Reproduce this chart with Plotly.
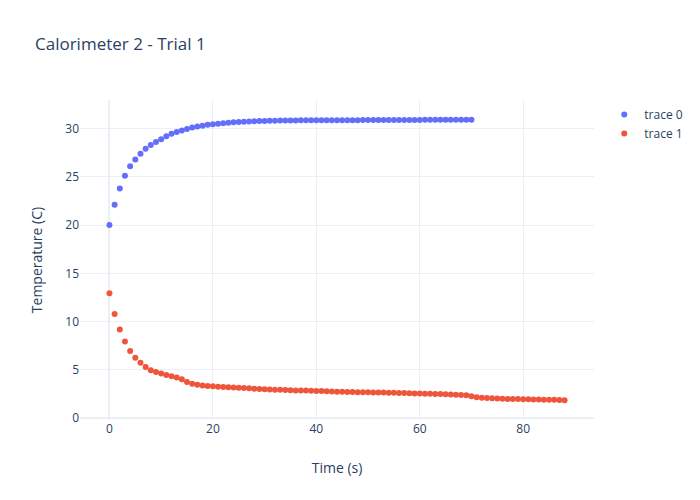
import plotly.graph_objects as go

time0 = list(range(0, 71))
temp0 = [20.0, 22.1, 23.8, 25.1, 26.1, 26.8, 27.4, 27.9, 28.3, 28.6,
         28.9, 29.2, 29.45, 29.65, 29.8, 29.95, 30.1, 30.2, 30.3, 30.38,
         30.44, 30.5, 30.55, 30.6, 30.64, 30.67, 30.7, 30.73, 30.75, 30.77,
         30.79, 30.8, 30.81, 30.82, 30.83, 30.84, 30.84, 30.85, 30.85, 30.85,
         30.86, 30.86, 30.86, 30.86, 30.87, 30.87, 30.87, 30.87, 30.87, 30.88,
         30.88, 30.88, 30.88, 30.88, 30.88, 30.89, 30.89, 30.89, 30.89, 30.89,
         30.89, 30.9, 30.9, 30.9, 30.9, 30.9, 30.9, 30.91, 30.91, 30.91,
         30.91]

time1 = list(range(0, 89))
temp1 = [12.95, 10.8, 9.2, 7.95, 6.95, 6.25, 5.75, 5.3, 4.97, 4.78,
         4.62, 4.48, 4.34, 4.22, 4.03, 3.76, 3.58, 3.47, 3.4, 3.34,
         3.3, 3.27, 3.24, 3.21, 3.18, 3.15, 3.12, 3.09, 3.06, 3.03,
         3.0, 2.98, 2.96, 2.94, 2.92, 2.9, 2.88, 2.87, 2.86, 2.85,
         2.83, 2.81, 2.79, 2.77, 2.75, 2.73, 2.72, 2.71, 2.7, 2.69,
         2.68, 2.67, 2.66, 2.65, 2.64, 2.63, 2.61, 2.6, 2.58, 2.57,
         2.55, 2.54, 2.53, 2.52, 2.5, 2.48, 2.46, 2.44, 2.41, 2.37,
         2.28, 2.18, 2.12, 2.09, 2.06, 2.04, 2.02, 2.0, 1.99, 1.98,
         1.97, 1.96, 1.95, 1.93, 1.92, 1.91, 1.9, 1.88, 1.86]

fig = go.Figure()
fig.add_trace(go.Scatter(x=time0, y=temp0, mode="markers", name="trace 0"))
fig.add_trace(go.Scatter(x=time1, y=temp1, mode="markers", name="trace 1"))
fig.update_layout(
    template="plotly_white",
    title="Calorimeter 2 - Trial 1",
    xaxis=dict(title=dict(text="Time (s)", standoff=27)),
    yaxis=dict(title=dict(text="Temperature (C)", standoff=19)),
    width=700, height=500,
)
fig.write_html("out.html", config={"displayModeBar": False},
               post_script="document.body.style.margin='0px';")
